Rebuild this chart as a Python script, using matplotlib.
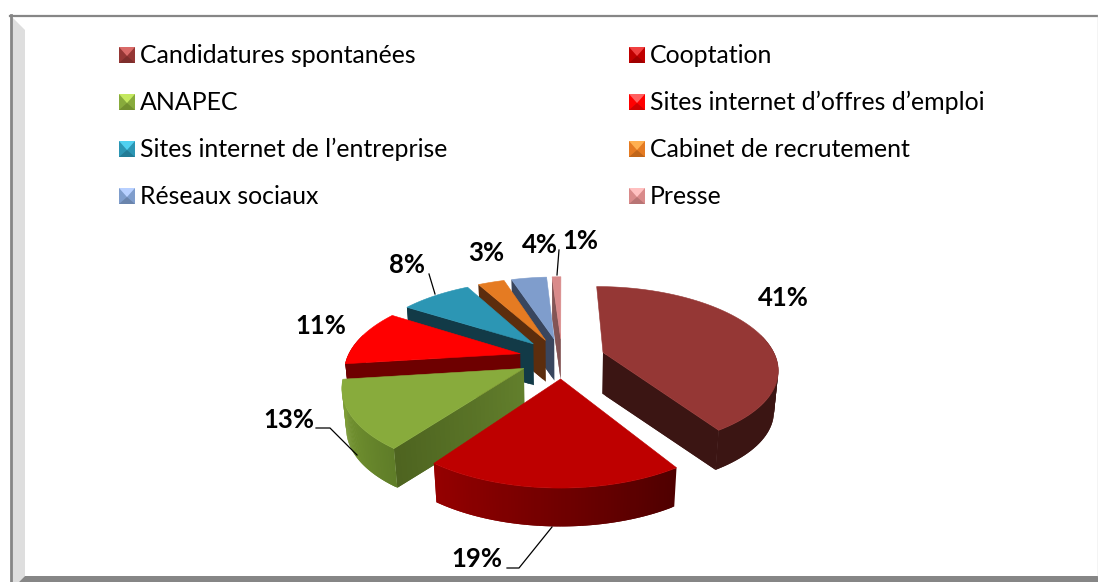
import matplotlib
matplotlib.use('Agg')
import matplotlib.pyplot as plt
from matplotlib.colors import to_rgb
import numpy as np

categories = ['Candidatures spontanées', 'Cooptation', 'ANAPEC', 'Sites internet d’offres d’emploi',
              'Sites internet de l’entreprise', 'Cabinet de recrutement', 'Réseaux sociaux', 'Presse']
values = [41, 19, 13, 11, 8, 3, 4, 1]

top_colors = ['#953735', '#BE0000', '#88AB3C', '#FF0000', '#2C96B4', '#E57B22', '#7F9DCC', '#D98A8A']
face_colors = [('#3B1513', '#3B1513'), ('#8B0000', '#8B0000'), ('#627F2C', '#4E6420'), ('#6E0000', '#6E0000'),
               ('#123A47', '#123A47'), ('#5C2D0D', '#5C2D0D'), ('#39465E', '#39465E'), ('#7C4A4A', '#7C4A4A')]
wall_colors = [('#3B1513', '#3B1513'), ('#4F0000', '#950000'), ('#5F7D28', '#7FA035'), ('#6E0000', '#6E0000'),
               ('#123A47', '#123A47'), ('#5C2D0D', '#5C2D0D'), ('#39465E', '#39465E'), ('#7C4A4A', '#7C4A4A')]
legend_mid = ['#953735', '#C00000', '#88AB3C', '#FF0000', '#2C96B4', '#E57B22', '#7F9DCC', '#D98A8A']
legend_light = ['#D96A68', '#F04040', '#C4E860', '#FF6060', '#50D0F0', '#FFB050', '#B8D0FF', '#FFC0C0']
legend_dark = ['#7E2E2C', '#A00000', '#72902F', '#D00000', '#237C96', '#C0661A', '#6A84AC', '#B87474']

# pie geometry, in picture pixels
CX, CY = 562, 358
R, RK = 173, 80
PERSP = 0.185
EXPLODE = 0.25
DEPTH = 41
LOWER = 0.98

plt.rcParams['font.family'] = ['Lato', 'DejaVu Sans']

fig = plt.figure(figsize=(10.98, 5.82), dpi=100)
ax = fig.add_axes([0, 0, 1, 1])
ax.set_xlim(0, 1098)
ax.set_ylim(582, 0)
ax.axis('off')


def project(x, y, lower=False):
    f = 1 / (1 + PERSP * y)
    sx = R * x * f
    sy = -RK * y * f
    if lower:
        return CX + sx * LOWER, CY + sy * LOWER + DEPTH
    return CX + sx, CY + sy


def band(x, y, c0, c1, z):
    # strip between the upper and lower rim, shaded from c0 to c1
    tx, ty = project(x, y)
    bx, by = project(x, y, lower=True)
    c0, c1 = np.array(to_rgb(c0)), np.array(to_rgb(c1))
    n = len(x) - 1
    for i in range(n):
        c = c0 + (c1 - c0) * i / max(n - 1, 1)
        j = min(i + 2, n)  # overlap the next strip so no seams show
        ax.fill([tx[i], tx[j], bx[j], bx[i]], [ty[i], ty[j], by[j], by[i]],
                color=c, lw=0, zorder=z)


# frame
ax.fill([10, 1098, 1098, 10], [15, 15, 582, 582], color='white', zorder=0)
ax.fill([12, 25, 25, 19, 12], [17, 30, 576, 582, 582], color='#DEDEDE', lw=0, zorder=0.5)
ax.plot([11, 11], [15, 582], color='#868686', lw=2, zorder=1)
ax.plot([10, 1098], [15.5, 15.5], color='#868686', lw=1.6, zorder=1)
ax.fill([25, 1098, 1098, 19], [576, 576, 582, 582], color='#868686', lw=0, zorder=1)
ax.plot([1097.5, 1097.5], [15, 576], color='#C8C8C8', lw=1, zorder=1)

# wedges, back to front
bounds = np.cumsum([0] + values) / sum(values) * 2 * np.pi
order = [7, 6, 5, 4, 0, 3, 2, 1]
for rank, i in enumerate(order):
    a0, a1 = bounds[i], bounds[i + 1]
    mid = (a0 + a1) / 2
    ox, oy = EXPLODE * np.sin(mid), EXPLODE * np.cos(mid)
    t = np.linspace(a0, a1, 80)
    ax_arc, ay_arc = ox + np.sin(t), oy + np.cos(t)
    z = 2 + rank
    s = np.linspace(0, 1, 30)
    # only the cut face that looks towards the viewer
    if np.sin(a0) < -1e-6:
        band(ox + s * np.sin(a0), oy + s * np.cos(a0), face_colors[i][0], face_colors[i][1], z)
    if np.sin(a1) > 1e-6:
        band(ox + s * np.sin(a1), oy + s * np.cos(a1), face_colors[i][0], face_colors[i][1], z)
    front = np.cos(t) < 0.25
    if front.sum() > 1:
        band(ax_arc[front], ay_arc[front], wall_colors[i][0], wall_colors[i][1], z + 0.2)
    px, py = project(np.r_[ox, ax_arc], np.r_[oy, ay_arc])
    ax.fill(px, py, color=top_colors[i], lw=0.4, zorder=z + 0.4)

# legend
legend_x = [119, 629]
legend_y = [63, 110, 157, 204]
for i, name in enumerate(categories):
    lx, ly = legend_x[i % 2], legend_y[i // 2]
    x0, x1, y0, y1 = lx, lx + 16, ly - 16, ly
    mx, my = lx + 8, ly - 7
    ax.fill([x0, x1, x1, x0], [y0, y0, y1, y1], color=legend_mid[i], lw=0, zorder=20)
    ax.fill([x0, x1, mx], [y0, y0, my], color=legend_light[i], lw=0, zorder=21)
    ax.fill([x0, x1, mx], [y1, y1, my], color=legend_dark[i], lw=0, zorder=21)
    ax.text(lx + 21, ly, name, fontsize=17.9, color='black', va='baseline', ha='left', zorder=22)

# percent labels and leader lines
label_x = [783, 477, 289, 321, 407, 486, 540, 580]
label_y = [298, 559, 420, 326, 265, 253, 245, 241]
for v, lx, ly in zip(values, label_x, label_y):
    ax.text(lx, ly, f'{v}%', fontsize=18.5, fontweight='bold', color='black', ha='center', va='center', zorder=30)

ax.plot([316, 330, 357], [428, 428, 455], color='black', lw=0.9, zorder=25)
ax.plot([507, 519, 552], [568, 568, 527], color='black', lw=0.9, zorder=25)
ax.plot([429, 435], [274, 294], color='black', lw=0.9, zorder=25)
ax.plot([559, 557], [250, 275], color='black', lw=0.9, zorder=25)

fig.savefig('out.png', dpi=100)
